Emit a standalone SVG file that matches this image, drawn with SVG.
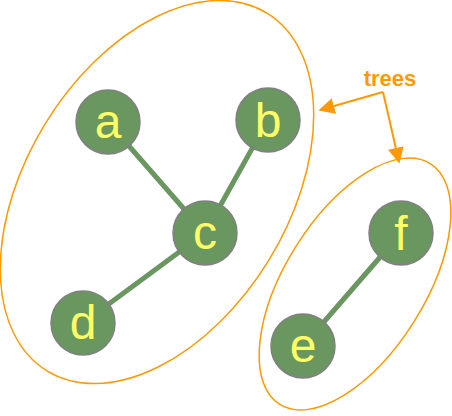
<svg xmlns="http://www.w3.org/2000/svg" width="452" height="416" viewBox="0 0 452 416">
<defs>
<style>
.grp{fill:none;stroke:#ff9900;stroke-width:1.5}
.edge{stroke:#6a9660;stroke-width:5;stroke-linecap:round}
.node circle{fill:#6a9660;stroke:#808080;stroke-width:1.5}
.node text{fill:#ffff66;font-family:"Liberation Sans",Arial,sans-serif;font-size:48px;text-anchor:middle}
.lbl{fill:#ff9900;font-family:"Liberation Sans",Arial,sans-serif;font-size:22px;font-weight:bold;text-anchor:middle}
.ptr{stroke:#ff9900;stroke-width:2;fill:none}
</style>
<marker id="ah" viewBox="0 0 10 10" refX="9" refY="5" markerWidth="8" markerHeight="8" markerUnits="strokeWidth" orient="auto">
<path d="M0,0 L10,5 L0,10 z" fill="#ff9900"/>
</marker>
</defs>
<g id="groups">
<ellipse class="grp" cx="157" cy="192" rx="131" ry="210" transform="rotate(31.6 157 192)"/>
<ellipse class="grp" cx="355" cy="284" rx="70" ry="142" transform="rotate(32 355 284)"/>
</g>
<g id="connectors">
<line class="edge" x1="108" y1="122" x2="205" y2="233"/>
<line class="edge" x1="268" y1="120" x2="205" y2="233"/>
<line class="edge" x1="205" y1="233" x2="83" y2="323"/>
<line class="edge" x1="401" y1="233" x2="303" y2="346"/>
<line class="ptr" x1="383" y1="92" x2="320" y2="110" marker-end="url(#ah)"/>
<line class="ptr" x1="383" y1="92" x2="399" y2="162" marker-end="url(#ah)"/>
</g>
<g id="node-a" class="node"><circle cx="108" cy="122" r="32"/><text x="108" y="138">a</text></g>
<g id="node-b" class="node"><circle cx="268" cy="120" r="32"/><text x="268" y="137">b</text></g>
<g id="node-c" class="node"><circle cx="205" cy="233" r="32"/><text x="205" y="249">c</text></g>
<g id="node-d" class="node"><circle cx="83" cy="323" r="32"/><text x="83" y="339">d</text></g>
<g id="node-e" class="node"><circle cx="303" cy="346" r="32"/><text x="303" y="362">e</text></g>
<g id="node-f" class="node"><circle cx="401" cy="233" r="32"/><text x="401" y="250">f</text></g>
<g id="label-trees"><text class="lbl" x="390" y="86">trees</text></g>
</svg>
